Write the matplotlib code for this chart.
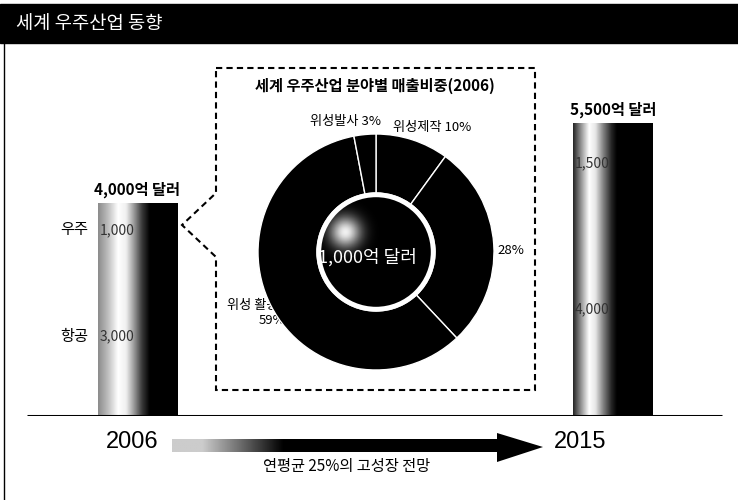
import numpy as np
import matplotlib
matplotlib.use("Agg")
import matplotlib.pyplot as plt
from matplotlib.patches import Polygon, Rectangle, Circle
from matplotlib.colors import LinearSegmentedColormap

plt.rcParams['font.family'] = ['Noto Sans CJK KR', 'DejaVu Sans']

# data (억 달러)
years = ['2006', '2015']
aviation = [3000, 4000]
space = [1000, 1500]
total_labels = ['4,000억 달러', '5,500억 달러']
segment_names = ['항공', '우주']

# 2006 space industry sales share (%)
share_names = ['위성제작', '', '위성 활용', '위성발사']
share_values = [10, 28, 59, 3]
space_total_label = '1,000억 달러'

W, H = 738, 500
fig = plt.figure(figsize=(W / 100, H / 100), dpi=100)

# background layer in pixel coordinates
bg = fig.add_axes([0, 0, 1, 1])
bg.set_xlim(0, W)
bg.set_ylim(H, 0)
bg.axis('off')

bg.add_patch(Rectangle((0, 4), W, 39, color='black'))
bg.text(16, 24, '세계 우주산업 동향', color='white', fontsize=13.5, va='center')
bg.plot([4, 4], [43, H], color='black', lw=1)

# dashed call-out box
box = Polygon([(216, 68), (535, 68), (535, 390), (216, 390), (216, 257),
               (182, 225), (216, 193)], closed=True, fill=False,
              edgecolor='black', lw=1.5, linestyle=(0, (3, 2)))
bg.add_patch(box)
bg.text(375, 86, '세계 우주산업 분야별 매출비중(2006)', fontsize=11,
        fontweight='bold', ha='center', va='center')

# pie labels (59% label sits partly under the donut like the original)
bg.text(345, 122, f'{share_names[3]} {share_values[3]}%', fontsize=9.5,
        ha='center', va='center')
bg.text(432, 127, f'{share_names[0]} {share_values[0]}%', fontsize=9.5,
        ha='center', va='center')
bg.text(497, 250, f'{share_values[1]}%', fontsize=9.5, ha='left', va='center')
bg.text(227, 306, f'{share_names[2]}서비스', fontsize=9.5, ha='left', va='center')
bg.text(259, 321, f'{share_values[2]}%', fontsize=9.5, ha='left', va='center')

# years and growth arrow
bg.text(132, 442, years[0], fontsize=17, family='Liberation Sans',
        ha='center', va='center')
bg.text(580, 442, years[1], fontsize=17, family='Liberation Sans',
        ha='center', va='center')
arrow = Polygon([(172, 439), (497, 439), (497, 433), (543, 447), (497, 462),
                 (497, 452), (172, 452)], closed=True, facecolor='none',
                edgecolor='none')
bg.add_patch(arrow)
gx = np.linspace(0, 1, 300)
ramp = np.clip((gx - 0.08) / 0.22, 0, 1)
grad = np.tile(0.8 * (1 - ramp), (4, 1))
im = bg.imshow(grad, cmap='gray', vmin=0, vmax=1, extent=(172, 543, 465, 430),
               aspect='auto', interpolation='bilinear')
im.set_clip_path(arrow)
bg.set_xlim(0, W)
bg.set_ylim(H, 0)
bg.text(347, 467, '연평균 25%의 고성장 전망', fontsize=11, ha='center', va='center')

# bars
ax = fig.add_axes([0, 84 / H, 1, 416 / H])
ax.patch.set_visible(False)
ax.axis('off')
px_per_unit = 0.0532
x = np.arange(len(years))
centers = (137.5, 613)
step = centers[1] - centers[0]
width = 80 / step
b1 = ax.bar(x, aviation, width, color='black', lw=0)
b2 = ax.bar(x, space, width, bottom=aviation, color='black', lw=0)

cmaps = [
    LinearSegmentedColormap.from_list('g06', [(0, '#8c8c8c'), (0.12, '#bdbdbd'),
        (0.25, '#ffffff'), (0.35, '#f0f0f0'), (0.45, '#9a9a9a'),
        (0.55, '#3a3a3a'), (0.65, '#000000'), (1, '#000000')]),
    LinearSegmentedColormap.from_list('g15', [(0, '#262626'), (0.08, '#808080'),
        (0.2, '#ffffff'), (0.28, '#e6e6e6'), (0.38, '#808080'),
        (0.48, '#262626'), (0.55, '#000000'), (1, '#000000')]),
]
g = np.tile(np.linspace(0, 1, 200), (2, 1))
for cont in (b1, b2):
    for i, p in enumerate(cont.patches):
        x0, y0 = p.get_x(), p.get_y()
        im = ax.imshow(g, cmap=cmaps[i], extent=(x0, x0 + p.get_width(), y0,
                       y0 + p.get_height()), aspect='auto',
                       interpolation='bilinear', zorder=2)
        im.set_clip_path(p)

ax.set_xlim(-centers[0] / step, (W - centers[0]) / step)
ax.set_ylim(0, 416 / px_per_unit)
ax.plot([-(centers[0] - 27) / step, (722 - centers[0]) / step], [0, 0],
        color='black', lw=2.2, zorder=3, solid_capstyle='butt')

for i in range(len(years)):
    total = aviation[i] + space[i]
    ax.annotate(total_labels[i], (x[i], total), xytext=(0, 10),
                textcoords='offset points', ha='center', va='center',
                fontsize=11, fontweight='bold')
    mids = [aviation[i] / 2, aviation[i] + space[i] / 2]
    vals = [aviation[i], space[i]]
    for j in range(2):
        ax.annotate(f'{vals[j]:,}', (x[i] - width / 2, mids[j]), xytext=(1.5, 0),
                    textcoords='offset points', ha='left', va='center',
                    fontsize=10, color='#333333', zorder=4)
        if i == 0:
            ax.annotate(segment_names[j], (x[i] - width / 2, mids[j]),
                        xytext=(-7, 0), textcoords='offset points',
                        ha='right', va='center', fontsize=11)

# donut
cx, cy, r = 376, 252, 118
pa = fig.add_axes([(cx - r) / W, (H - cy - r) / H, 2 * r / W, 2 * r / H])
pa.pie(share_values, startangle=90, counterclock=False,
       colors=['black'] * len(share_values),
       wedgeprops=dict(width=0.5, edgecolor='white', linewidth=1))
disc = Circle((0, 0), 0.5, facecolor='black', edgecolor='none', zorder=3)
pa.add_patch(disc)
yy, xx = np.mgrid[0.5:-0.5:200j, -0.5:0.5:200j]
d = np.hypot(xx + 0.26, yy - 0.17)
glow = np.zeros((200, 200, 4))
glow[..., :3] = 1
glow[..., 3] = np.exp(-(d / 0.13) ** 2) * 0.95
gim = pa.imshow(glow, extent=(-0.5, 0.5, -0.5, 0.5), zorder=4,
                interpolation='bilinear')
gim.set_clip_path(disc)
pa.add_patch(Circle((0, 0), 0.485, facecolor='none', edgecolor='white',
                    lw=3.5, zorder=5))
pa.text(-0.07, -0.05, space_total_label, color='white', fontsize=13,
        ha='center', va='center', zorder=6)
pa.set_xlim(-1, 1)
pa.set_ylim(-1, 1)
pa.set_aspect('auto')
pa.axis('off')

fig.savefig('out.png', dpi=100)
